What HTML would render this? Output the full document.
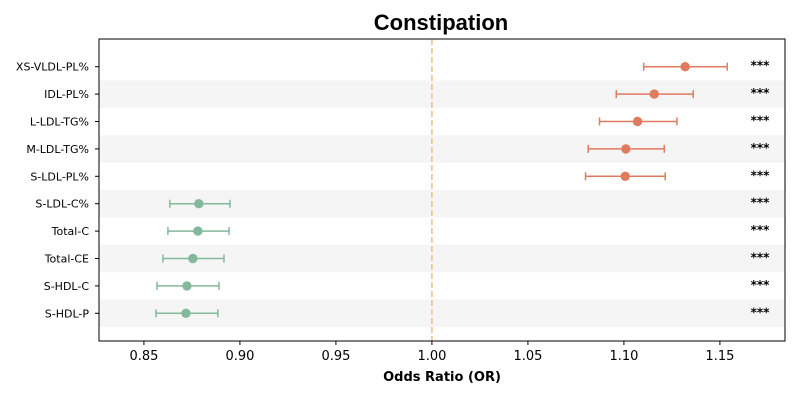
<!DOCTYPE html>
<html><head><meta charset="utf-8"><style>
body{margin:0;background:#fff;}
svg text{font-family:"DejaVu Sans","Liberation Sans",sans-serif;}
svg text.title{font-family:"Liberation Sans",Arial,sans-serif;}
</style></head><body>
<svg id="chart" width="800" height="400"></svg>
<script>
const labels=["XS-VLDL-PL%","IDL-PL%","L-LDL-TG%","M-LDL-TG%","S-LDL-PL%","S-LDL-C%","Total-C","Total-CE","S-HDL-C","S-HDL-P"];
const orValues=[1.1319,1.1158,1.1071,1.1010,1.1007,0.8786,0.8781,0.8755,0.8724,0.8719];
const ciLow=[1.1103,1.0960,1.0873,1.0814,1.0800,0.8635,0.8625,0.8599,0.8568,0.8563];
const ciHigh=[1.1538,1.1361,1.1276,1.1210,1.1215,0.8948,0.8943,0.8917,0.8891,0.8885];
const sigLabels=["***","***","***","***","***","***","***","***","***","***"];
const xTicks=[0.85,0.90,0.95,1.00,1.05,1.10,1.15];
const xTickLabels=["0.85","0.90","0.95","1.00","1.05","1.10","1.15"];
const NS="http://www.w3.org/2000/svg";
const svg=document.getElementById('chart');
const L=99,R=785,T=39,B=341;
const xMin=0.8266, xMax=1.1839;
const x=v=>L+(v-xMin)/(xMax-xMin)*(R-L);
const rowH=27.4, y0=66.7;
const y=i=>y0+i*rowH;
function mk(tag,attrs,parent){const e=document.createElementNS(NS,tag);for(const k in attrs)e.setAttribute(k,attrs[k]);(parent||svg).appendChild(e);return e;}
labels.forEach((l,i)=>{if(i%2===1){const r=mk('rect',{x:L,y:y(i)-rowH/2,width:R-L,height:rowH,fill:'#f5f5f5'});

}});
const ref=mk('line',{x1:x(1),x2:x(1),y1:T,y2:B,stroke:'#eac27f','stroke-width':1.5,'stroke-dasharray':'6,3'});


const fr=mk('rect',{x:L,y:T,width:R-L,height:B-T,fill:'none',stroke:'#000','stroke-width':1});


xTicks.forEach((t,i)=>{const g=mk('g',{});


mk('line',{x1:x(t),x2:x(t),y1:B,y2:B+4,stroke:'#000'},g);
const tx=mk('text',{x:x(t),y:B+19,'text-anchor':'middle','font-size':13},g);tx.textContent=xTickLabels[i];});
labels.forEach((l,i)=>{
const g=mk('g',{});


mk('line',{x1:L-4,x2:L,y1:y(i),y2:y(i),stroke:'#000'},g);
const t=mk('text',{x:L-10,y:y(i)+4,'text-anchor':'end','font-size':11},g);t.textContent=l;
const c=orValues[i]>1?'#e07b5f':'#84b89c';
mk('line',{x1:x(ciLow[i]),x2:x(ciHigh[i]),y1:y(i),y2:y(i),stroke:c,'stroke-width':1.5},g);
mk('line',{x1:x(ciLow[i]),x2:x(ciLow[i]),y1:y(i)-4,y2:y(i)+4,stroke:c,'stroke-width':1.5},g);
mk('line',{x1:x(ciHigh[i]),x2:x(ciHigh[i]),y1:y(i)-4,y2:y(i)+4,stroke:c,'stroke-width':1.5},g);
mk('circle',{cx:x(orValues[i]),cy:y(i),r:4.7,fill:c},g);
const s=mk('text',{x:760,y:y(i)+3,'text-anchor':'middle','font-size':12,'font-weight':'bold'},g);s.textContent=sigLabels[i];
});
const title=mk('text',{x:441,y:30,'text-anchor':'middle','font-size':22,'font-weight':'bold','class':'title'});title.textContent='Constipation';


const xt=mk('text',{x:442,y:381,'text-anchor':'middle','font-size':13,'font-weight':'bold'});xt.textContent='Odds Ratio (OR)';


</script>
</body></html>
